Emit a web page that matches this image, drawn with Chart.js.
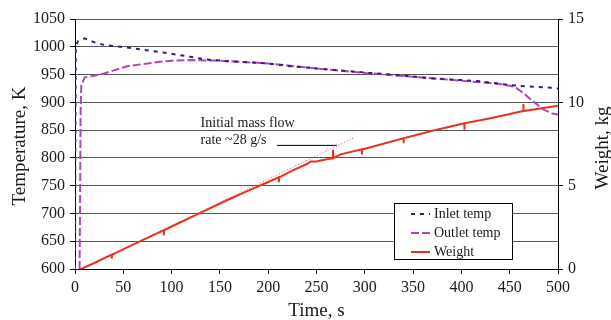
<!DOCTYPE html>
<html>
<head>
<meta charset="utf-8">
<title>Temperature and weight vs time</title>
<script src="https://cdn.jsdelivr.net/npm/chart.js@4.4.0/dist/chart.umd.min.js"></script>
<style>
  body { margin: 0; background: #fff; }
  #wrap { width: 611px; height: 320px; }
</style>
</head>
<body>
<div id="wrap"><canvas id="myChart" width="611" height="320"></canvas></div>
<script>
// inlet temp, K (time in s)
var inletTime = [0, 0.3, 0.8, 3, 10, 20, 31, 53, 78, 98, 119, 136, 160, 200, 223, 250, 305, 340, 371, 400, 419, 450, 475, 497, 500];
var inletTemp = [600, 800, 1000, 1010, 1015, 1008, 1003, 999, 993, 988, 982, 977, 974, 970, 965, 961, 953, 948, 943, 940, 938, 931, 928, 926, 925];

// outlet temp, K
var outletTime = [4.7, 5.2, 5.8, 6.5, 10, 20, 30, 54, 75, 88, 100, 122, 150, 200, 250, 300, 350, 400, 440, 455, 464, 474, 485, 494, 500];
var outletTemp = [600, 700, 880, 930, 945, 948, 952, 965, 970, 973, 975, 976, 975, 970, 961, 953, 946, 939, 933, 928, 917, 902, 887, 880, 878];

// weight, kg (the little spikes are in the trace)
var weightTime = [5, 7, 20, 38, 38, 38.5, 60, 80, 92, 92, 92.5, 100, 120, 140, 160, 180, 200, 211, 211, 211.5, 225, 240, 244, 250, 258, 267, 267, 267.5, 275, 297, 297, 297.5, 300, 340, 340, 340.5, 370, 400, 403, 403, 403.5, 430, 450, 464, 464, 464.5, 480, 500];
var weightKg   = [0, 0.02, 0.36, 0.86, 0.62, 0.86, 1.46, 2.0, 2.33, 2.03, 2.33, 2.55, 3.1, 3.65, 4.2, 4.72, 5.22, 5.5, 5.2, 5.5, 5.9, 6.3, 6.45, 6.45, 6.55, 6.65, 7.15, 6.65, 6.88, 7.18, 6.88, 7.18, 7.22, 7.85, 7.55, 7.85, 8.3, 8.7, 8.74, 8.36, 8.74, 9.05, 9.3, 9.48, 9.9, 9.48, 9.62, 9.8];

// tangent for the initial flow rate (~28 g/s) and the note's leader line
var tangentTime = [7, 288];
var tangentKg = [0, 7.85];
var leaderTime = [209, 271];
var leaderTemp = [822.5, 822.5];
var noteTime = 130;
var noteTemp = [862, 831];
var noteLines = ["Initial mass flow", "rate ~28 g/s"];

// axis ranges
var timeRange = [0, 500, 50];
var tempRange = [600, 1050, 50];
var weightRange = [0, 15, 5];

var serif = "'Liberation Serif', 'Times New Roman', serif";

function toPoints(xs, ys) {
  return xs.map(function(x, i) {
    return { x: x, y: ys[i] };
  });
}

// plain numbers, no thousands comma
function plainTick(v) {
  return String(v);
}

// draws titles, the note and the boxed legend
var extrasPlugin = {
  id: "extras",
  afterDatasetsDraw: function(chart) {
    var ctx = chart.ctx;
    var area = chart.chartArea;
    var xs = chart.scales.x;
    var ys = chart.scales.y;

    ctx.save();
    ctx.fillStyle = "#1a1a1a";
    ctx.textBaseline = "middle";

    // note
    ctx.font = "14px " + serif;
    ctx.textAlign = "left";
    noteLines.forEach(function(line, i) {
      ctx.fillText(line, xs.getPixelForValue(noteTime), ys.getPixelForValue(noteTemp[i]));
    });

    // axis titles
    ctx.font = "19px " + serif;
    ctx.textAlign = "center";
    ctx.fillText("Time, s", (area.left + area.right) / 2, area.bottom + 42);

    ctx.save();
    ctx.translate(area.left - 55, (area.top + area.bottom) / 2 + 2);
    ctx.rotate(-Math.PI / 2);
    ctx.fillText("Temperature, K", 0, 0);
    ctx.restore();

    ctx.save();
    ctx.translate(area.right + 45, (area.top + area.bottom) / 2 + 4);
    ctx.rotate(-Math.PI / 2);
    ctx.fillText("Weight, kg", 0, 0);
    ctx.restore();

    // legend
    var bx = area.right - 164, by = area.bottom - 66, bw = 118, bh = 56;
    ctx.fillStyle = "#fff";
    ctx.fillRect(bx, by, bw, bh);
    ctx.strokeStyle = "#000";
    ctx.lineWidth = 1;
    ctx.strokeRect(bx + 0.5, by + 0.5, bw, bh);

    ctx.font = "14px " + serif;
    ctx.textAlign = "left";
    chart.data.datasets.slice(0, 3).forEach(function(ds, i) {
      var ly = by + 11 + i * 19;
      ctx.beginPath();
      ctx.strokeStyle = ds.borderColor;
      ctx.lineWidth = ds.borderWidth;
      ctx.setLineDash(ds.borderDash || []);
      ctx.moveTo(bx + 17, ly);
      ctx.lineTo(bx + 36, ly);
      ctx.stroke();
      ctx.setLineDash([]);
      ctx.fillStyle = "#1a1a1a";
      ctx.fillText(ds.label, bx + 40, ly);
    });
    ctx.restore();
  }
};

var ctx = document.getElementById("myChart").getContext("2d");
var chart = new Chart(ctx, {
  type: "line",
  data: {
    datasets: [
      {
        label: "Inlet temp",
        data: toPoints(inletTime, inletTemp),
        borderColor: "#2a2085",
        borderWidth: 2,
        borderDash: [4, 5],
        yAxisID: "y"
      },
      {
        label: "Outlet temp",
        data: toPoints(outletTime, outletTemp),
        borderColor: "#b444b8",
        borderWidth: 2,
        borderDash: [8, 3],
        yAxisID: "y"
      },
      {
        label: "Weight",
        data: toPoints(weightTime, weightKg),
        borderColor: "#e8321e",
        borderWidth: 2,
        yAxisID: "y2"
      },
      {
        label: "tangent",
        data: toPoints(tangentTime, tangentKg),
        borderColor: "#f04a4a",
        borderWidth: 1,
        borderDash: [1, 2],
        yAxisID: "y2"
      },
      {
        label: "leader",
        data: toPoints(leaderTime, leaderTemp),
        borderColor: "#000",
        borderWidth: 1,
        yAxisID: "y"
      }
    ]
  },
  options: {
    responsive: false,
    animation: false,
    layout: { padding: { top: 19, left: 0, right: 0, bottom: 0 } },
    elements: { point: { radius: 0 }, line: { tension: 0 } },
    plugins: {
      legend: { display: false },
      tooltip: { enabled: false }
    },
    scales: {
      x: {
        type: "linear",
        min: timeRange[0],
        max: timeRange[1],
        ticks: { stepSize: timeRange[2], callback: plainTick, color: "#1a1a1a", font: { family: serif, size: 16 }, padding: 4, maxRotation: 0 },
        grid: { drawOnChartArea: false, tickLength: 5, tickColor: "#000" },
        border: { color: "#000" },
        afterFit: function(s) { s.height = 51; }
      },
      y: {
        position: "left",
        min: tempRange[0],
        max: tempRange[1],
        ticks: { stepSize: tempRange[2], callback: plainTick, color: "#1a1a1a", font: { family: serif, size: 16 }, padding: 5 },
        grid: { color: "#555", tickLength: 5, tickColor: "#000" },
        border: { color: "#000" },
        afterFit: function(s) { s.width = 75; }
      },
      y2: {
        position: "right",
        min: weightRange[0],
        max: weightRange[1],
        ticks: { stepSize: weightRange[2], callback: plainTick, color: "#1a1a1a", font: { family: serif, size: 16 }, padding: 5 },
        grid: { drawOnChartArea: false, tickLength: 5, tickColor: "#000" },
        border: { color: "#000" },
        afterFit: function(s) { s.width = 53; }
      }
    }
  },
  plugins: [extrasPlugin]
});
</script>
</body>
</html>
